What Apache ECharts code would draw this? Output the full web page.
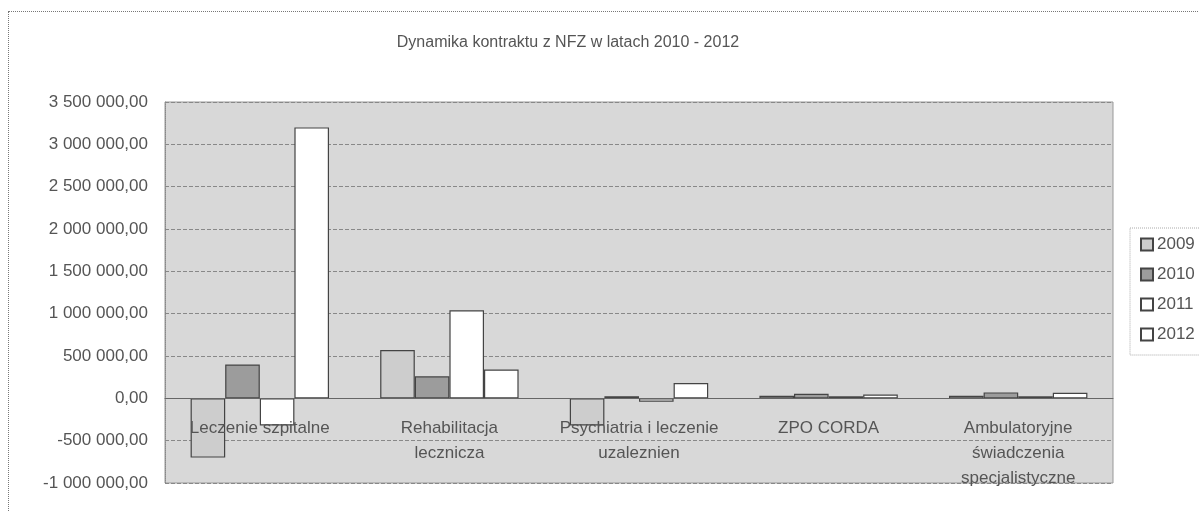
<!DOCTYPE html>
<html>
<head>
<meta charset="utf-8">
<script src="https://cdn.jsdelivr.net/npm/echarts@6/dist/echarts.min.js"></script>
<style>
html,body{margin:0;padding:0;background:#fff;}
#frame{position:absolute;left:8px;top:11px;width:1220px;height:560px;border:1px dotted #777;box-sizing:border-box;}
#chart{position:absolute;left:0;top:0;width:1199px;height:511px;}
</style>
</head>
<body>
<div id="frame"></div>
<div id="chart"></div>
<script>
const titleText = 'Dynamika kontraktu z NFZ w latach 2010 - 2012';
const categories = ['Leczenie szpitalne', 'Rehabilitacja\nlecznicza', 'Psychiatria i leczenie\nuzaleznien', 'ZPO CORDA', 'Ambulatoryjne\nświadczenia\nspecjalistyczne'];
const years = ['2009', '2010', '2011', '2012'];
const v2009 = [-700000, 570000, -320000, 30000, 30000];
const v2010 = [400000, 260000, 25000, 55000, 70000];
const v2011 = [-320000, 1040000, -40000, 25000, 25000];
const v2012 = [3200000, 340000, 180000, 45000, 65000];
const yMin = -1000000, yMax = 3500000, yStep = 500000;

const seriesValues = [v2009, v2010, v2011, v2012];
const colors = ['#cdcdcd', '#9c9c9c', '#ffffff', '#ffffff'];

function fmt(v) {
  const neg = v < 0;
  let s = Math.abs(Math.round(v)).toString();
  s = s.replace(/\B(?=(\d{3})+(?!\d))/g, ' ');
  return (neg ? '-' : '') + s + ',00';
}

const chart = echarts.init(document.getElementById('chart'));
chart.setOption({
  backgroundColor: 'transparent',
  animation: false,
  textStyle: {fontFamily: 'Liberation Sans, Arial, sans-serif'},
  title: {
    text: titleText,
    left: 563, top: 30, textAlign: 'center',
    textStyle: {fontSize: 16, fontWeight: 'normal', color: '#555', fontFamily: 'Liberation Sans, Arial, sans-serif'}
  },
  legend: {
    orient: 'vertical',
    left: 1130, top: 228,
    padding: [8, 20, 12, 10],
    itemGap: 13,
    itemWidth: 12, itemHeight: 12,
    icon: 'rect',
    borderColor: '#aaa', borderWidth: 1, borderType: 'dotted',
    textStyle: {fontSize: 17, color: '#555', padding: [0, 0, 0, -1]},
    data: years
  },
  grid: {
    left: 165, right: 86, top: 102, bottom: 28,
    outerBoundsMode: 'none',
    containLabel: false,
    show: true, backgroundColor: '#d8d8d8', borderColor: '#999', borderWidth: 1
  },
  xAxis: {
    type: 'category',
    data: categories,
    z: 10,
    axisTick: {show: false},
    axisLine: {onZero: true, lineStyle: {color: '#666', width: 1}},
    axisLabel: {fontSize: 17, color: '#555', lineHeight: 25, margin: -67, interval: 0, verticalAlign: 'top'}
  },
  yAxis: {
    type: 'value',
    min: yMin, max: yMax, interval: yStep,
    axisLine: {show: true, lineStyle: {color: '#888', type: 'dotted'}},
    axisTick: {show: false},
    splitLine: {lineStyle: {color: '#888', type: 'dashed'}},
    axisLabel: {fontSize: 17, color: '#555', margin: 17, formatter: fmt}
  },
  series: years.map((y, i) => ({
    name: y,
    type: 'bar',
    data: seriesValues[i],
    barGap: '0%',
    barCategoryGap: '27%',
    itemStyle: {color: colors[i], borderColor: '#444', borderWidth: 1.2}
  }))
});
</script>
</body>
</html>
